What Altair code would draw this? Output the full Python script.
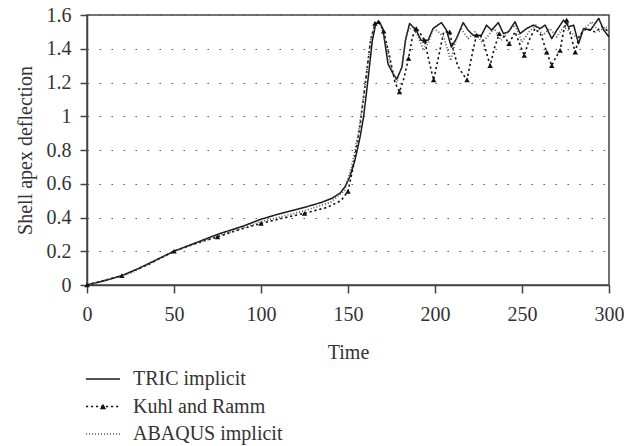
import altair as alt
import pandas as pd

# TRIC implicit (solid line)
tric_t = [0, 10, 20, 30, 40, 50, 60, 75, 90, 100, 110, 125, 135, 141, 145.5, 148.5, 151, 154, 157, 159, 161.3,
          164, 166, 168, 170, 173, 176, 178, 181, 183, 185.4, 189.2, 192, 196, 198.9, 203.7, 206.6, 209.4, 212.3,
          216.2, 219, 221.9, 226.7, 229.6, 232.5, 236.4, 239.3, 242.2, 246, 248.9, 252.7, 256.5, 260.4, 263.3,
          267.1, 270, 273.9, 276.8, 279.7, 282.5, 285.4, 289.3, 294.1, 297, 300]
tric_v = [0, 0.025, 0.055, 0.1, 0.15, 0.2, 0.24, 0.3, 0.35, 0.39, 0.42, 0.46, 0.49, 0.515, 0.545, 0.585, 0.64,
          0.74, 0.88, 1.0, 1.2, 1.45, 1.55, 1.56, 1.52, 1.31, 1.25, 1.22, 1.29, 1.45, 1.55, 1.51, 1.45, 1.45, 1.52,
          1.555, 1.51, 1.41, 1.46, 1.555, 1.51, 1.48, 1.48, 1.54, 1.51, 1.555, 1.49, 1.5, 1.56, 1.49, 1.52, 1.54,
          1.52, 1.54, 1.46, 1.51, 1.57, 1.53, 1.54, 1.43, 1.52, 1.51, 1.58, 1.51, 1.47]

# Kuhl and Ramm (dotted line with triangles)
kuhl_t = [0, 20, 35, 50, 62, 75, 88, 100, 112, 125, 138, 146, 150, 153, 157, 160, 163, 165.5, 167.5, 170.5, 174,
          177, 179.6, 182, 184.8, 187, 189.2, 191, 194, 196.5, 199.2, 202, 205, 208.4, 210.4, 213, 216, 218.4, 221,
          223.8, 227, 229.5, 231.7, 234, 236.9, 240, 242.6, 246, 249, 251.3, 254, 257.5, 261, 264.2, 267.1, 269.5,
          271.9, 273.8, 275.7, 278, 280.6, 283, 287, 292, 296, 300]
kuhl_v = [0, 0.055, 0.12, 0.2, 0.245, 0.285, 0.33, 0.365, 0.395, 0.425, 0.46, 0.50, 0.555, 0.7, 0.95, 1.2, 1.45,
          1.55, 1.56, 1.505, 1.35, 1.2, 1.145, 1.22, 1.343, 1.47, 1.52, 1.5, 1.45, 1.33, 1.215, 1.35, 1.5, 1.5, 1.4,
          1.3, 1.25, 1.215, 1.35, 1.48, 1.47, 1.38, 1.30, 1.4, 1.49, 1.47, 1.43, 1.5, 1.42, 1.36, 1.45, 1.52, 1.48,
          1.38, 1.30, 1.35, 1.39, 1.5, 1.57, 1.48, 1.38, 1.48, 1.52, 1.5, 1.53, 1.5]
kuhl_marker_t = [0, 20, 50, 75, 100, 125, 150, 165.5, 167.5, 170.5, 179.6, 184.8, 189.2, 194, 199.2, 208.4,
                 218.4, 223.8, 231.7, 236.9, 242.6, 251.3, 264.2, 267.1, 271.9, 275.7, 280.6]

# ABAQUS implicit (fine dotted line)
abaqus_t = [0, 25, 50, 75, 100, 125, 140, 148, 152, 156, 160, 163, 166, 169, 172, 175, 178, 181, 184, 187, 190,
            193, 196, 199, 202, 205, 209, 212, 215, 219, 223, 227, 230, 234, 238, 242, 246, 250, 254, 258, 262,
            266, 270, 274, 278, 282, 286, 290, 294, 298, 300]
abaqus_v = [0, 0.07, 0.2, 0.29, 0.375, 0.44, 0.49, 0.56, 0.7, 0.9, 1.2, 1.45, 1.56, 1.54, 1.42, 1.28, 1.2, 1.3,
            1.5, 1.53, 1.48, 1.4, 1.43, 1.52, 1.5, 1.47, 1.33, 1.45, 1.52, 1.46, 1.5, 1.44, 1.47, 1.52, 1.45, 1.5,
            1.54, 1.44, 1.5, 1.54, 1.48, 1.52, 1.47, 1.53, 1.5, 1.46, 1.52, 1.56, 1.5, 1.53, 1.5]

series = ["TRIC implicit", "Kuhl and Ramm", "ABAQUS implicit"]
y_ticks = [0, 0.2, 0.4, 0.6, 0.8, 1.0, 1.2, 1.4, 1.6]
x_ticks = [0, 50, 100, 150, 200, 250, 300]

rows = []
for name, ts, vs in [(series[0], tric_t, tric_v), (series[1], kuhl_t, kuhl_v), (series[2], abaqus_t, abaqus_v)]:
    for i, (t, v) in enumerate(zip(ts, vs)):
        rows.append({"series": name, "t": t, "v": v, "order": i})
df = pd.DataFrame(rows)
kv = dict(zip(kuhl_t, kuhl_v))
mk = pd.DataFrame({"t": kuhl_marker_t, "v": [kv[t] for t in kuhl_marker_t]})
leg = pd.DataFrame({"series": series})

FONT = "Liberation Serif"
TXT = "#333333"
AX = "#444444"

dash_scale = alt.Scale(domain=series, range=[[1, 0], [2.2, 2.8], [1, 2]])
color_scale = alt.Scale(domain=series, range=["#1a1a1a", "#111111", "#555555"])
width_scale = alt.Scale(domain=series, range=[1.5, 1.7, 1.1])

x_axis = alt.Axis(values=x_ticks, title="Time", grid=False, tickSize=8, labelPadding=11, titlePadding=18,
                  labelFont=FONT, titleFont=FONT, labelFontSize=20, titleFontSize=20, labelColor=TXT,
                  titleColor=TXT, titleFontWeight="normal", domainColor=AX, domainWidth=1.5, tickColor=AX,
                  tickWidth=1.5, labelFlush=False, labelOverlap=False)
y_axis = alt.Axis(values=y_ticks, format="~g", title="Shell apex deflection", grid=True, tickSize=7,
                  labelPadding=9, titlePadding=11, gridDash=[1.5, 10.5], gridColor="#555555", gridWidth=1.2,
                  labelFont=FONT, titleFont=FONT, labelFontSize=20, titleFontSize=20, labelColor=TXT,
                  titleColor=TXT, titleFontWeight="normal", domainColor=AX, domainWidth=1.5, tickColor=AX,
                  tickWidth=1.5, labelFlush=False, labelOverlap=False)

x_enc = alt.X("t:Q", scale=alt.Scale(domain=[0, 300], nice=False), axis=x_axis)
y_enc = alt.Y("v:Q", scale=alt.Scale(domain=[0, 1.6], nice=False), axis=y_axis)

lines = alt.Chart(df).mark_line(interpolate="linear", strokeJoin="round").encode(
    x=x_enc,
    y=y_enc,
    order="order:Q",
    strokeDash=alt.StrokeDash("series:N", scale=dash_scale, legend=None),
    color=alt.Color("series:N", scale=color_scale, legend=None),
    strokeWidth=alt.StrokeWidth("series:N", scale=width_scale, legend=None),
)

markers = alt.Chart(mk).mark_point(shape="triangle-up", filled=True, color="#111111", size=30, opacity=1).encode(
    x=x_enc, y=y_enc
)

main = alt.layer(lines, markers)

# Legend drawn below the plot, rows positioned by a point scale
leg_y = alt.Y("series:N", sort=series, axis=None,
              scale=alt.Scale(type="point", domain=series, range=[364, 419], padding=0))
leg_lines = alt.Chart(leg).mark_rule().encode(
    x=alt.value(-1), x2=alt.value(33),
    y=leg_y,
    strokeDash=alt.StrokeDash("series:N", scale=dash_scale, legend=None),
    color=alt.Color("series:N", scale=color_scale, legend=None),
    strokeWidth=alt.StrokeWidth("series:N", scale=width_scale, legend=None),
)
leg_tri = alt.Chart(leg).transform_filter(alt.datum.series == series[1]).mark_point(
    shape="triangle-up", filled=True, color="#111111", size=40, opacity=1
).encode(x=alt.value(16), y=leg_y)
leg_text = alt.Chart(leg).mark_text(align="left", baseline="middle", font=FONT, fontSize=20, color=TXT).encode(
    x=alt.value(46), y=leg_y, text="series:N"
)
legend = alt.layer(leg_lines, leg_tri, leg_text)

chart = alt.layer(main, legend).resolve_scale(y="independent").properties(
    width=522, height=270,
    background="white",
    autosize=alt.AutoSizeParams(type="none"),
    padding={"left": 87, "top": 15, "right": 15, "bottom": 161},
).configure_view(
    stroke=AX, strokeWidth=1.5
)

chart.save("out.html", embed_options={"renderer": "svg", "actions": False})
